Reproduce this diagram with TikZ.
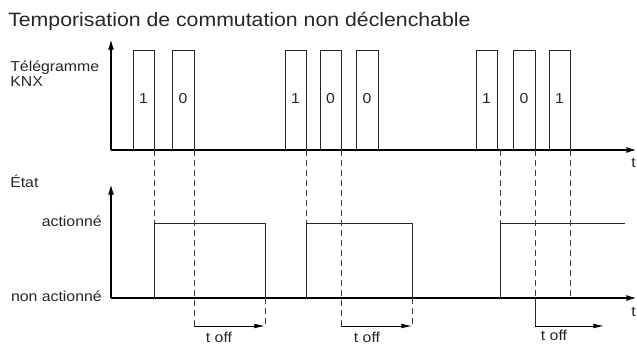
\documentclass[tikz,border=0pt]{standalone}
\usepackage{fontspec}
\setmainfont{Liberation Sans}[FakeStretch=1.1]
\usetikzlibrary{arrows.meta}
\begin{document}
\begin{tikzpicture}[x=0.75pt,y=-0.75pt,
  axis/.style={line width=1.3pt,-{Latex[length=8pt,width=4.5pt]}},
  sig/.style={line width=0.6pt,draw=black!85},
  pulsebox/.style={line width=0.6pt,draw=black!85},
  dsh/.style={line width=0.6pt,draw=black!75,dash pattern=on 4.5pt off 3pt},
  toff/.style={line width=0.6pt,-{Latex[length=8pt,width=3.5pt]}},
  lbl/.style={font=\fontsize{10.8pt}{12pt}\selectfont,inner sep=0pt,text=black!85},
  ttl/.style={font=\fontsize{14.5pt}{16pt}\selectfont,inner sep=0pt,text=black!85}]
\useasboundingbox (0,0) rectangle (637,345);
% title
\node[ttl,anchor=base west] (title) at (8,27) {Temporisation de commutation non déclenchable};
% axis labels
\node[lbl,anchor=base west] (tel) at (10,72) {Télégramme};
\node[lbl,anchor=base west] (knx) at (10,87) {KNX};
\node[lbl,anchor=base west] (etat) at (10,188) {État};
\node[lbl,anchor=base east] (act) at (102,227) {actionné};
\node[lbl,anchor=base east] (nact) at (102,302) {non actionné};
\node[lbl,anchor=base west] (t1) at (631,168) {t};
\node[lbl,anchor=base west] (t2) at (631,317) {t};
% axes
\coordinate (o1) at (111,150);
\coordinate (o2) at (111,298);
\draw[axis] (o1) -- (111,39);
\draw[axis] (o1) -- (637,150);
\draw[axis] (o2) -- (111,184);
\draw[axis] (o2) -- (637,298);
% telegram pulses
\foreach \a/\b/\v/\n in {133/154/1/p1,172/194/0/p2,285/306/1/p3,320/341/0/p4,356/378/0/p5,476/497/1/p6,513/535/0/p7,549/570/1/p8}{
  \draw[pulsebox] (\a,150) -- (\a,50) -- (\b,50) -- (\b,150);
  \node[lbl,anchor=base] (\n) at ({(\a+\b)/2},104) {\v};
}
% state signal
\draw[sig] (154,298) -- (154,223) -- (265,223) -- (265,298);
\draw[sig] (306,298) -- (306,223) -- (412,223) -- (412,298);
\draw[sig] (500,298) -- (500,223) -- (625,223);
% dashed guides
\draw[dsh] (154,150) -- (154,223);
\draw[dsh] (194,150) -- (194,326);
\draw[dsh] (265,298) -- (265,326);
\draw[dsh] (306,150) -- (306,223);
\draw[dsh] (341,150) -- (341,326);
\draw[dsh] (412,298) -- (412,326);
\draw[dsh] (500,150) -- (500,223);
\draw[dsh] (535,150) -- (535,298);
\draw[dsh] (570,150) -- (570,298);
\draw[sig] (535,298) -- (535,326);
% t off arrows
\coordinate (a1) at (194,326); \coordinate (b1) at (265,326);
\coordinate (a2) at (341,326); \coordinate (b2) at (412,326);
\coordinate (a3) at (535,326); \coordinate (b3) at (604,326);
\draw[toff] (a1) -- (b1);
\draw[toff] (a2) -- (b2);
\draw[toff] (a3) -- (b3);
\node[lbl,anchor=base] (l1) at (219,343) {t off};
\node[lbl,anchor=base] (l2) at (367,343) {t off};
\node[lbl,anchor=base] (l3) at (554,341) {t off};
\end{tikzpicture}
\end{document}
